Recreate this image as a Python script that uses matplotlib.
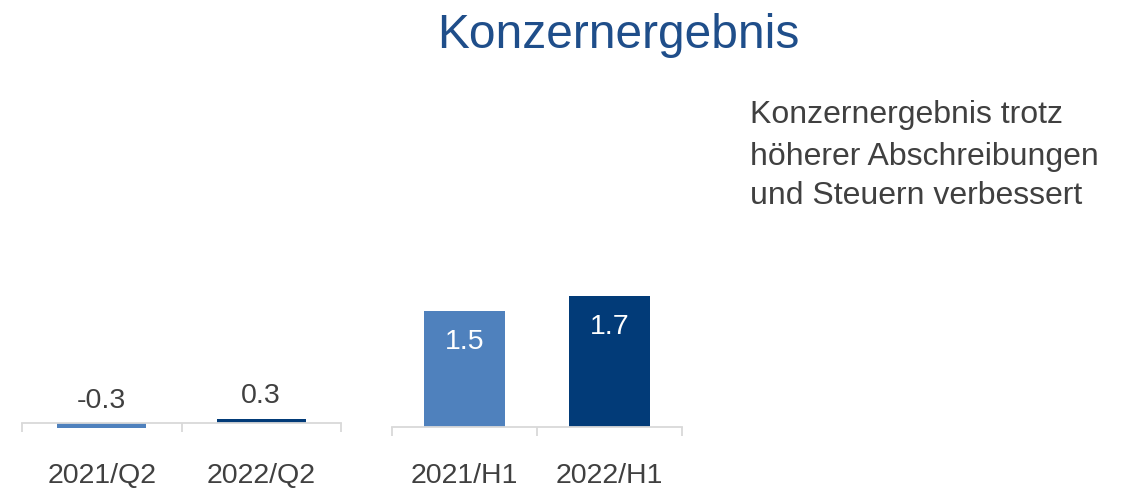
import matplotlib
matplotlib.use('Agg')
import matplotlib.pyplot as plt
from matplotlib.transforms import blended_transform_factory

plt.rcParams['font.family'] = ['Liberation Sans', 'DejaVu Sans']

LIGHT_BLUE = '#4F81BD'
DARK_BLUE = '#023B78'
AXIS_GRAY = '#D9D9D9'
TEXT_GRAY = '#404040'
TITLE_BLUE = '#1F4E8A'

# data
q2_labels = ['2021/Q2', '2022/Q2']
q2_values = [-0.3, 0.3]
h1_labels = ['2021/H1', '2022/H1']
h1_values = [1.5, 1.7]
title = 'Konzernergebnis'
comment_lines = ['Konzernergebnis trotz', 'höherer Abschreibungen', 'und Steuern verbessert']

W, H = 1125, 489
fig = plt.figure(figsize=(W / 100, H / 100), dpi=100)


def px_box(x0, x1, y_top, y_bot):
    return [x0 / W, 1 - y_bot / H, (x1 - x0) / W, (y_bot - y_top) / H]


def draw_panel(ax, labels, values, ylim, inside):
    ax.bar(range(len(values)), values, width=0.56, color=[LIGHT_BLUE, DARK_BLUE])
    ax.set_xlim(-0.5, len(values) - 0.5)
    ax.set_ylim(*ylim)
    for s in ['top', 'left', 'right']:
        ax.spines[s].set_visible(False)
    ax.spines['bottom'].set_position(('data', 0))
    ax.spines['bottom'].set_color(AXIS_GRAY)
    ax.spines['bottom'].set_linewidth(1.3)
    ax.set_yticks([])
    ax.set_xticks([i - 0.5 for i in range(len(values) + 1)])
    ax.set_xticklabels([])
    ax.tick_params(axis='x', direction='out', length=6.5, width=1.3, color=AXIS_GRAY)
    ax.patch.set_visible(False)

    trans = blended_transform_factory(ax.transData, fig.transFigure)
    for i, (lab, v) in enumerate(zip(labels, values)):
        ax.text(i, 1 - 476 / H, lab, transform=trans, ha='center', va='center',
                fontsize=20.5, color=TEXT_GRAY)
        if inside:
            ax.annotate(f'{v:.1f}', xy=(i, v), xytext=(0, -30), textcoords='offset pixels',
                        ha='center', va='center', fontsize=20.5, color='white')
        else:
            ax.annotate(f'{v:.1f}', xy=(i, max(v, 0)), xytext=(0, 23), textcoords='offset pixels',
                        ha='center', va='center', fontsize=20.5, color=TEXT_GRAY)


ax_q2 = fig.add_axes(px_box(22, 341, 280, 460))
draw_panel(ax_q2, q2_labels, q2_values, (-36 / 15, 144 / 15), inside=False)

ax_h1 = fig.add_axes(px_box(392, 682, 280, 460))
draw_panel(ax_h1, h1_labels, h1_values, (-32 / 77.2, 148 / 77.2), inside=True)

fig.text(618 / W, 1 - 48 / H, title, ha='center', va='baseline', fontsize=34.5, color=TITLE_BLUE)

for y, line in zip([123, 165, 204], comment_lines):
    fig.text(750 / W, 1 - y / H, line, ha='left', va='baseline', fontsize=23, color=TEXT_GRAY)

fig.savefig('out.png', dpi=100)
